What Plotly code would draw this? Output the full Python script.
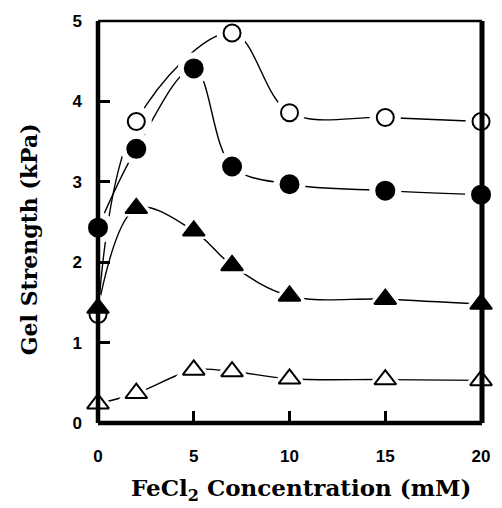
import plotly.graph_objects as go

# Data
open_circle_x = [0, 2, 7, 10, 15, 20]
open_circle_y = [1.35, 3.75, 4.85, 3.86, 3.80, 3.75]

filled_circle_x = [0, 2, 5, 7, 10, 15, 20]
filled_circle_y = [2.43, 3.41, 4.41, 3.19, 2.97, 2.89, 2.84]

filled_triangle_x = [0, 2, 5, 7, 10, 15, 20]
filled_triangle_y = [1.43, 2.67, 2.39, 1.96, 1.58, 1.54, 1.48]

open_triangle_x = [0, 2, 5, 7, 10, 15, 20]
open_triangle_y = [0.24, 0.37, 0.66, 0.64, 0.55, 0.54, 0.53]

x_ticks = [0, 5, 10, 15, 20]
y_ticks = [0, 1, 2, 3, 4, 5]

x_title = "FeCl<sub>2</sub> Concentration (mM)"
y_title = "Gel Strength (kPa)"

series = [
    (open_circle_x, open_circle_y, "circle-open", 17),
    (filled_circle_x, filled_circle_y, "circle", 18),
    (filled_triangle_x, filled_triangle_y, "triangle-up", 19),
    (open_triangle_x, open_triangle_y, "triangle-up-open", 19),
]

X_RANGE = [0, 20.05]
Y_RANGE = [0, 5]

fig = go.Figure()
for xs, ys, sym, sz in series:
    fig.add_trace(go.Scatter(
        x=xs, y=ys, mode="lines",
        line=dict(color="black", width=1.4, shape="spline", smoothing=1.0),
        showlegend=False, hoverinfo="skip",
    ))
# white halos first, then the markers, so lines stop short of each marker
for xs, ys, sym, sz in series:
    halo_sym = sym.replace("-open", "")
    fig.add_trace(go.Scatter(
        x=xs, y=ys, mode="markers",
        marker=dict(symbol=halo_sym, size=sz + 14, color="rgb(255,255,255)",
                    opacity=1, line=dict(width=0)),
        showlegend=False, hoverinfo="skip", cliponaxis=False,
    ))
for xs, ys, sym, sz in series:
    fig.add_trace(go.Scatter(
        x=xs, y=ys, mode="markers",
        marker=dict(symbol=sym, size=sz, color="black",
                    line=dict(color="black", width=2)),
        showlegend=False, cliponaxis=False,
    ))

# frame: thick left/bottom/right, thinner top
frame = [
    (0, 0, 0, 1, 4.5),
    (0, 0, 1, 0, 4.5),
    (1, 0, 1, 1, 5),
    (0, 1, 1, 1, 2.5),
]
for x0, y0, x1, y1, w in frame:
    fig.add_shape(type="line", xref="paper", yref="paper",
                  x0=x0, y0=y0, x1=x1, y1=y1,
                  line=dict(color="black", width=w), layer="above")

tick_font = dict(family="Liberation Sans", size=17, color="black", weight="bold")
title_font = dict(family="DejaVu Serif", size=23, color="black", weight="bold")

fig.add_annotation(text=x_title, xref="paper", yref="paper", x=0.528, y=-0.166,
                   xanchor="center", yanchor="middle", showarrow=False, font=title_font)
fig.add_annotation(text=y_title, xref="paper", yref="paper", x=-0.18, y=0.457,
                   xanchor="center", yanchor="middle", showarrow=False, textangle=-90,
                   font=dict(family="DejaVu Serif", size=22, color="black", weight="bold"))

fig.update_layout(
    width=502, height=508,
    margin=dict(l=98, r=15, t=12, b=85),
    paper_bgcolor="white", plot_bgcolor="white",
    xaxis=dict(
        range=X_RANGE, tickvals=x_ticks, ticktext=[str(v) for v in x_ticks],
        ticks="inside", ticklen=12, tickwidth=3, tickcolor="black",
        showgrid=False, zeroline=False, showline=False,
        tickfont=tick_font, ticklabelstandoff=21,
    ),
    yaxis=dict(
        range=Y_RANGE, tickvals=y_ticks, ticktext=[str(v) for v in y_ticks],
        ticks="inside", ticklen=12, tickwidth=3, tickcolor="black",
        showgrid=False, zeroline=False, showline=False,
        tickfont=tick_font, ticklabelstandoff=15,
    ),
)

fig.write_html(
    "out.html",
    config={"displayModeBar": False},
    post_script="document.body.style.margin='0';document.body.style.overflow='hidden';",
)
